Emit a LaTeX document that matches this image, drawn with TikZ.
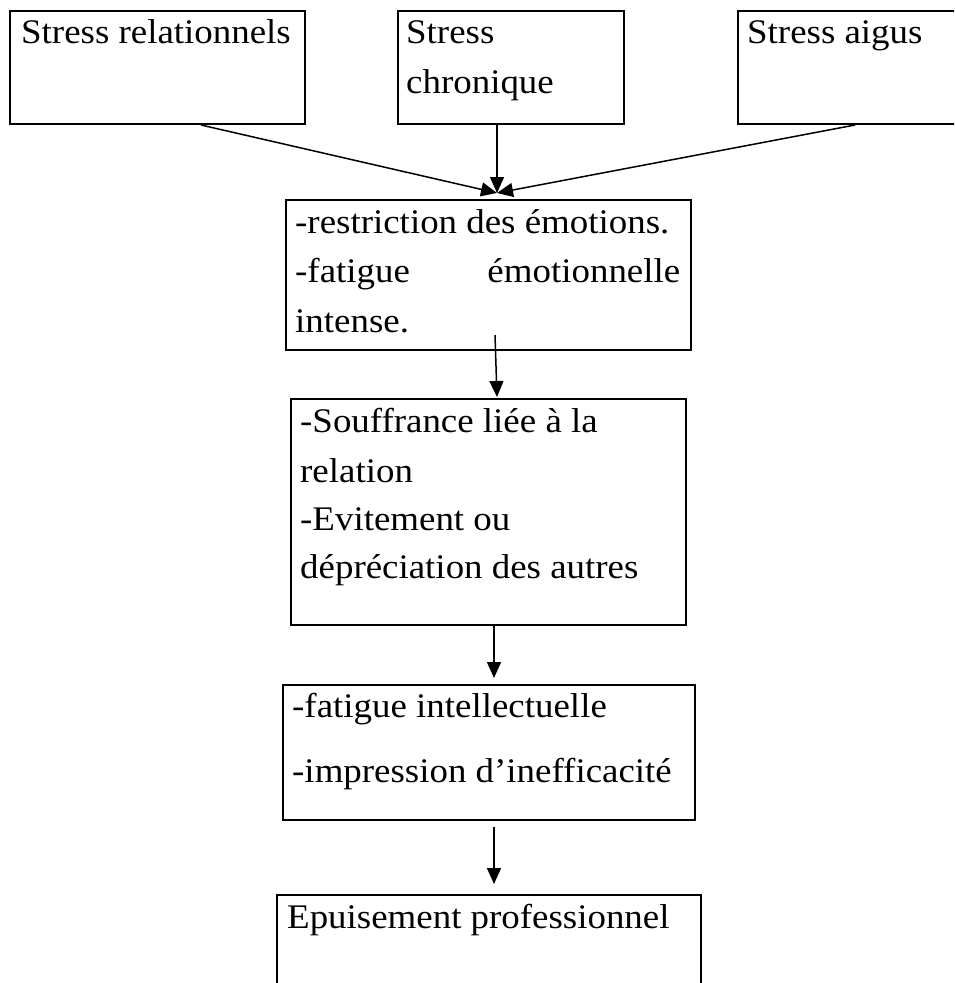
\documentclass[tikz,border=0pt]{standalone}
\usepackage{fontspec}
\setmainfont{Liberation Serif}[FakeStretch=1.07]
\usetikzlibrary{arrows.meta,calc}
\begin{document}
\begin{tikzpicture}[x=1pt,y=-1pt,
  box/.style={draw, line width=2pt, inner sep=0pt, rectangle, anchor=north west},
  txt/.style={anchor=base west, inner sep=0pt, font=\fontsize{34.5}{40}\selectfont},
  arr/.style={line width=1.5pt, -{Triangle[length=16pt,width=14pt]}}]
\clip (0,0) rectangle (954,983);
% boxes
\node[box, minimum width=295pt, minimum height=113pt] (b1) at (9,10) {};
\node[box, minimum width=226pt, minimum height=113pt] (b2) at (397,10) {};
\node[box, minimum width=260pt, minimum height=113pt] (b3) at (737,10) {};
\node[box, minimum width=405pt, minimum height=150pt] (b4) at (285,199) {};
\node[box, minimum width=395pt, minimum height=226pt] (b5) at (290,398) {};
\node[box, minimum width=412pt, minimum height=135pt] (b6) at (282,684) {};
\node[box, minimum width=424pt, minimum height=120pt] (b7) at (276,894) {};
% texts
\node[txt] (t1) at (21,43) {Stress relationnels};
\node[txt] (t2a) at (406,43) {Stress};
\node[txt] (t2b) at (406,93) {chronique};
\node[txt] (t3) at (747,43) {Stress aigus};
\node[txt] (t4a) at (295,233) {-restriction des émotions.};
\node[txt] (t4b) at (295,282) {\makebox[385pt][l]{-fatigue\hfill émotionnelle}};
\node[txt] (t4c) at (295,332) {intense.};
\node[txt] (t5a) at (300,432) {-Souffrance liée à la};
\node[txt] (t5b) at (300,482) {relation};
\node[txt] (t5c) at (300,530) {-Evitement ou};
\node[txt] (t5d) at (300,578) {dépréciation des autres};
\node[txt] (t6a) at (292,717) {-fatigue intellectuelle};
\node[txt] (t6b) at (292,782) {-impression d’inefficacité};
\node[txt] (t7) at (287,928) {Epuisement professionnel};
% connectors
\coordinate (m) at (497,193);
\draw[arr] ([xshift=192pt]b1.south west) -- (m);
\draw[arr] ([xshift=100pt]b2.south west) -- (m);
\draw[arr] ([xshift=118pt]b3.south west) -- (m);
\draw[arr] ([xshift=210pt,yshift=16pt]b4.south west) -- ([xshift=207pt,yshift=1pt]b5.north west);
\draw[arr] ([xshift=204pt,yshift=1pt]b5.south west) -- ([xshift=212pt,yshift=6pt]b6.north west);
\draw[arr] ([xshift=212pt,yshift=-6pt]b6.south west) -- ([xshift=218pt,yshift=10pt]b7.north west);
\end{tikzpicture}
\end{document}
